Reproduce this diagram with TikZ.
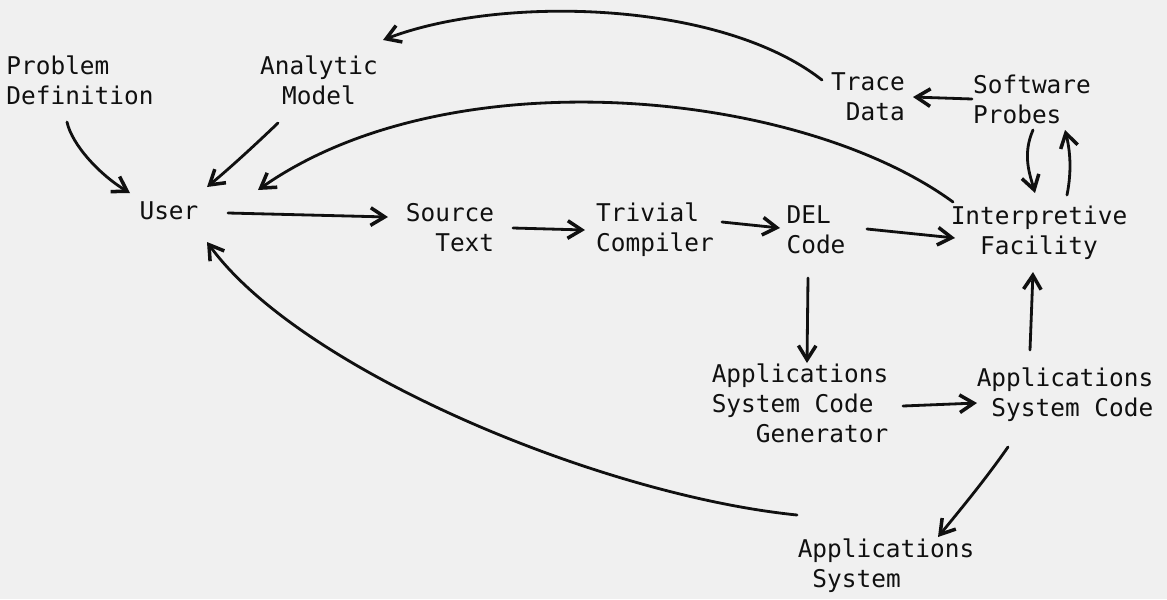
\documentclass[tikz,border=0pt]{standalone}
\usepackage{fontspec}
\newfontfamily\typer{DejaVu Sans Mono}
\usetikzlibrary{arrows.meta,calc}
\definecolor{paper}{HTML}{F0F0F0}
\definecolor{ink}{HTML}{101010}
\begin{document}
\begin{tikzpicture}[x=0.02cm,y=-0.02cm,
  lbl/.style={font=\typer\fontsize{13.9pt}{17pt}\selectfont, inner sep=0pt, text=ink},
  arr/.style={draw=ink, line width=1.6pt, line cap=round,
    -{Straight Barb[length=8pt,width=10pt,line width=2pt]}}
]
\fill[paper] (0,0) rectangle (1167,599);
\useasboundingbox (0,0) rectangle (1167,599);

\node[lbl,align=left]   (pd)    at (80,80)   {Problem\\Definition};
\node[lbl,align=center] (am)    at (319,80)  {Analytic\\Model};
\node[lbl]              (user)  at (169,211) {User};
\node[lbl,align=right]  (src)   at (450,228) {Source\\Text};
\node[lbl,align=left]   (tc)    at (655,230) {Trivial\\Compiler};
\node[lbl,align=left]   (del)   at (816,230) {DEL\\Code};
\node[lbl,align=center] (ifac)  at (1039,233) {Interpretive\\Facility};
\node[lbl,align=right]  (trace) at (868,97)  {Trace\\Data};
\node[lbl,align=left]   (sp)    at (1032,99) {Software\\Probes};
\node[lbl,align=left]   (ascg)  at (800,406) {Applications\\System Code\\\phantom{App}Generator};
\node[lbl,align=right]  (asc)   at (1065,395) {Applications\\System Code};
\node[lbl,align=left]   (apps)  at (886,566) {Applications\\\phantom{A}System};

\draw[arr] ($(pd)+(-13,42)$) .. controls (72,145) and (100,175) .. ($(user)+(-39,-18)$);
\draw[arr] ($(am)+(-41,43)$) .. controls (255,145) and (230,168) .. ($(user)+(38,-24)$);
\draw[arr] ($(ifac)+(-86,-31)$) .. controls (800,90) and (450,55) .. ($(user)+(89,-21)$);
\draw[arr] ($(trace)+(-46,-17)$) .. controls (720,0) and (500,-5) .. ($(am)+(64,-40)$);
\draw[arr] ($(sp)+(-60,0)$) -- ($(trace)+(45,0)$);
\draw[arr] ($(sp)+(1,31)$) .. controls (1022,155) and (1030,175) .. ($(ifac)+(-4,-40)$);
\draw[arr] ($(ifac)+(28,-38)$) .. controls (1072,170) and (1070,150) .. ($(sp)+(33,31)$);
\draw[arr] ($(user)+(59,2)$) -- ($(src)+(-62,-11)$);
\draw[arr] ($(src)+(63,0)$) -- ($(tc)+(-70,0)$);
\draw[arr] ($(tc)+(67,-8)$) -- ($(del)+(-36,-2)$);
\draw[arr] ($(del)+(51,-1)$) -- ($(ifac)+(-84,5)$);
\draw[arr] ($(del)+(-8,48)$) -- ($(ascg)+(7,-43)$);
\draw[arr] ($(ascg)+(103,0)$) -- ($(asc)+(-88,8)$);
\draw[arr] ($(asc)+(-35,-45)$) -- ($(ifac)+(-6,39)$);
\draw[arr] ($(asc)+(-57,52)$) .. controls (985,480) and (960,510) .. ($(apps)+(52,-29)$);
\draw[arr] ($(apps)+(-89,-51)$) .. controls (600,495) and (300,370) .. ($(user)+(38,31)$);
\end{tikzpicture}
\end{document}
